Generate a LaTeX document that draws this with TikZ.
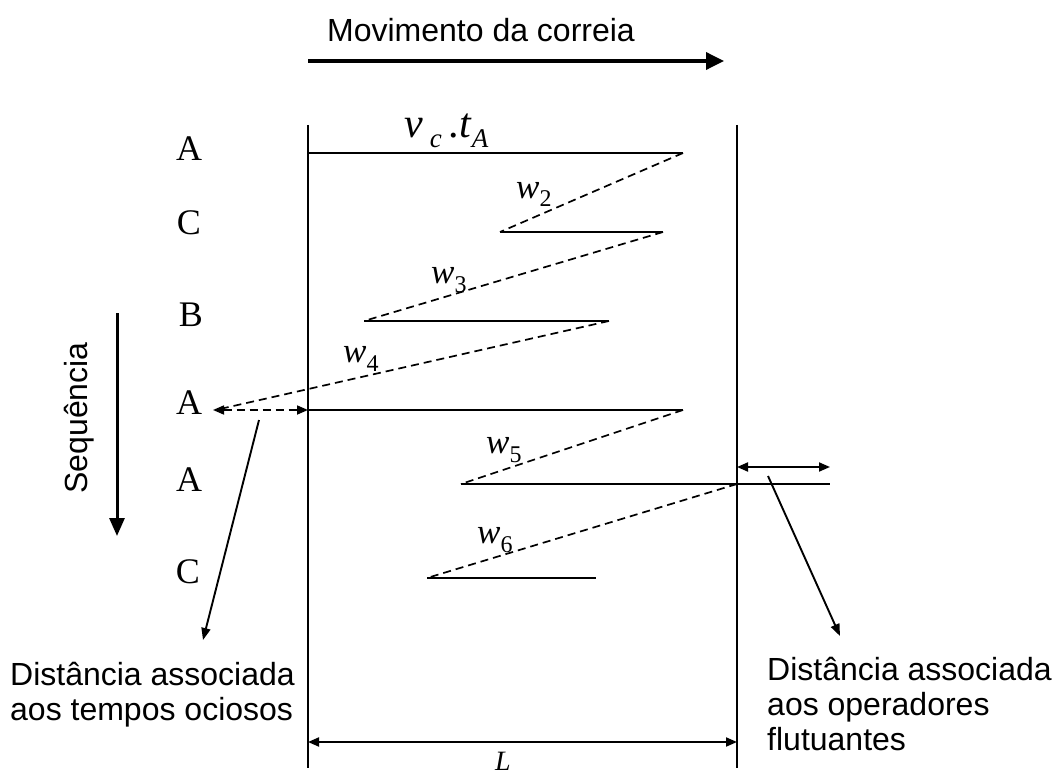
\documentclass[tikz,border=0pt]{standalone}
\usepackage{fontspec}
\setmainfont{Liberation Serif}
\setsansfont{Liberation Sans}
\usetikzlibrary{arrows.meta}
\begin{document}
\begin{tikzpicture}[x=1pt,y=-1pt,
  sline/.style={line width=1.8pt},
  dline/.style={line width=1.7pt, dash pattern=on 8pt off 5pt},
  bigarrow/.style={line width=3.5pt, -{Triangle[length=18pt,width=17pt]}},
  dbl/.style={line width=1.9pt, {Triangle[length=11pt,width=9pt]}-{Triangle[length=11pt,width=9pt]}},
  ptr/.style={line width=1.9pt, -{Triangle[length=12pt,width=9pt]}},
  rowlab/.style={anchor=base, inner sep=0pt, font=\fontsize{36}{36}\selectfont},
  slab/.style={inner sep=0pt, font=\sffamily\fontsize{32}{35}\selectfont},
  wlab/.style={anchor=base west, inner sep=0pt, font=\fontsize{35}{35}\selectfont}
]
\useasboundingbox (0,0) rectangle (1054,778);
\newcommand{\sbx}[1]{\raisebox{-9pt}{\fontsize{24}{24}\selectfont #1}}

% vertical boundaries
\coordinate (Lt) at (308,125); \coordinate (Lb) at (308,768);
\coordinate (Rt) at (737,125); \coordinate (Rb) at (737,768);
\draw[sline] (Lt) -- (Lb);
\draw[sline] (Rt) -- (Rb);

% belt movement
\coordinate (m1) at (308,61); \coordinate (m2) at (724,61);
\draw[bigarrow] (m1) -- (m2);
\node[slab, anchor=base] (mov) at (481,42) {Movimento da correia};

% row labels
\node[rowlab] (rA1) at (189,161) {A};
\node[rowlab] (rC1) at (189,234) {C};
\node[rowlab] (rB1) at (191,326) {B};
\node[rowlab] (rA2) at (189,414) {A};
\node[rowlab] (rA3) at (189,491) {A};
\node[rowlab] (rC2) at (188,583) {C};

% task segments
\coordinate (a1s) at (308,153); \coordinate (a1e) at (683,153);
\coordinate (c1s) at (500,232); \coordinate (c1e) at (663,232);
\coordinate (b1s) at (364,321); \coordinate (b1e) at (609,321);
\coordinate (a2s) at (308,410); \coordinate (a2e) at (683,410);
\coordinate (a3s) at (461,484); \coordinate (a3e) at (830,484);
\coordinate (a3r) at (737,484);
\coordinate (c2s) at (427,578); \coordinate (c2e) at (596,578);
\draw[sline] (a1s) -- (a1e);
\draw[sline] (c1s) -- (c1e);
\draw[sline] (b1s) -- (b1e);
\draw[sline] (a2s) -- (a2e);
\draw[sline] (a3s) -- (a3e);
\draw[sline] (c2s) -- (c2e);

% walking (dashed)
\coordinate (lp) at (213,410);
\coordinate (lw) at (220,409);
\draw[dline] (a1e) -- (c1s);
\draw[dline] (c1e) -- (b1s);
\draw[dline] (b1e) -- (lw);
\draw[dline] (a2e) -- (a3s);
\draw[dline] (a3r) -- (c2s);

% labels
\node[wlab, font=\fontsize{42}{42}\selectfont] (vt) at (404,138)
  {\textit{v}\,\raisebox{-10pt}{\fontsize{27}{27}\selectfont\textit{c}}\,.\textit{t}\raisebox{-10pt}{\fontsize{27}{27}\selectfont\textit{A}}};
\node[wlab] (w2) at (516,198) {\textit{w}\sbx{2}};
\node[wlab] (w3) at (431,283) {\textit{w}\sbx{3}};
\node[wlab] (w4) at (343,362) {\textit{w}\sbx{4}};
\node[wlab] (w5) at (486,453) {\textit{w}\sbx{5}};
\node[wlab] (w6) at (477,543) {\textit{w}\sbx{6}};

% idle distance
\draw[dline, {Triangle[length=11pt,width=9pt]}-{Triangle[length=11pt,width=9pt]}] (lp) -- (a2s);
\coordinate (lq) at (259,420); \coordinate (lq2) at (203,640);
\draw[ptr] (lq) -- (lq2);
\node[slab, anchor=north west, align=left] (idle) at (10,662) {Distância associada\\aos tempos ociosos};

% floating distance
\coordinate (f1) at (737,467); \coordinate (f2) at (830,467);
\draw[dbl] (f1) -- (f2);
\coordinate (rq) at (768,476); \coordinate (rq2) at (840,636);
\draw[ptr] (rq) -- (rq2);
\node[slab, anchor=north west, align=left] (float) at (767,657) {Distância associada\\aos operadores\\flutuantes};

% sequence
\coordinate (s1) at (117,313); \coordinate (s2) at (117,536);
\draw[line width=3pt, -{Triangle[length=18pt,width=15pt]}] (s1) -- (s2);
\node[slab, rotate=90] (seq) at (79,418) {Sequência};

% L
\coordinate (Ll) at (308,742); \coordinate (Lr) at (737,742);
\draw[dbl] (Ll) -- (Lr);
\node[anchor=base, inner sep=0pt, font=\fontsize{28}{28}\selectfont] (Llab) at (503,770) {\textit{L}};
\end{tikzpicture}
\end{document}
